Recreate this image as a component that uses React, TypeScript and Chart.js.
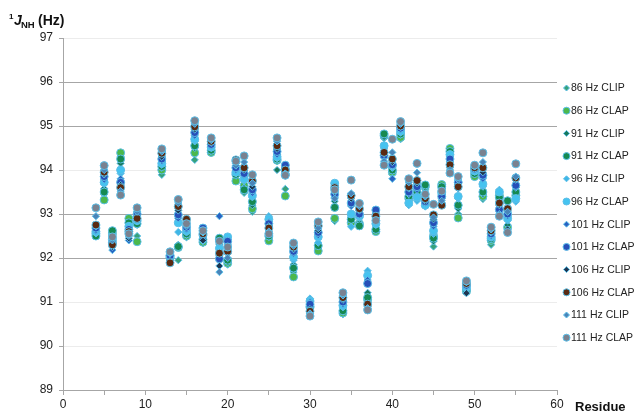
import React, { useEffect, useRef } from 'react';
import { Chart, registerables } from 'chart.js';

Chart.register(...registerables);

const residues = [4, 5, 6, 7, 8, 9, 12, 13, 14, 15, 16, 17, 18, 19, 20, 21, 22, 23, 25, 26, 27, 28, 30, 31, 33, 34, 35, 36, 37, 38, 39, 40, 41, 42, 43, 44, 45, 46, 47, 48, 49, 50, 51, 52, 53, 54, 55];

const hz86Clip = [92.58, 93.45, 92.5, 94.3, 92.85, 92.5, 93.89, 91.97, 91.95, 92.47, 94.23, 92.34, 94.39, 92.32, 91.85, 93.8, 93.48, 93.05, 92.43, 94.2, 93.57, 91.68, 90.86, 92.22, 92.84, 90.72, 92.92, 92.82, 91.0, 92.6, 94.72, 93.9, 94.7, 93.3, 93.42, 93.55, 92.26, 93.6, 94.45, 93.0, 91.22, 93.88, 93.34, 92.3, 93.32, 92.68, 93.4];
const hz86Clap = [92.55, 93.32, 92.55, 94.39, 92.9, 92.37, 94.0, 92.02, 92.24, 92.5, 94.39, 92.36, 94.4, 92.42, 91.88, 93.75, 93.65, 93.12, 92.39, 94.22, 93.41, 91.57, 90.88, 92.16, 92.9, 90.75, 92.8, 92.78, 91.05, 92.6, 94.78, 93.95, 94.74, 93.35, 93.45, 93.62, 92.5, 93.67, 94.49, 92.91, 91.24, 93.85, 93.4, 92.4, 93.42, 92.7, 93.42];
const hz91Clip = [92.52, 93.58, 92.57, 94.15, 92.78, 92.75, 94.05, 91.98, 92.3, 92.52, 94.5, 92.38, 94.42, 92.3, 91.9, 93.87, 93.6, 93.2, 92.47, 94.0, 93.87, 91.85, 90.92, 92.3, 93.29, 90.78, 92.85, 92.8, 91.21, 92.62, 94.75, 93.98, 94.8, 93.38, 93.48, 93.6, 92.38, 93.58, 94.4, 93.12, 91.26, 93.9, 93.45, 92.42, 93.35, 92.75, 93.45];
const hz91Clap = [92.5, 93.5, 92.62, 94.25, 92.8, 92.78, 94.08, 92.0, 92.26, 92.55, 94.55, 92.42, 94.45, 92.45, 91.95, 93.9, 93.55, 93.28, 92.5, 94.25, 93.9, 91.77, 90.9, 92.28, 93.15, 90.8, 92.88, 92.73, 91.1, 92.65, 94.82, 94.0, 94.82, 93.4, 93.5, 93.66, 92.45, 93.62, 94.42, 93.2, 91.28, 93.92, 93.5, 92.44, 93.38, 93.3, 93.5];
const hz96Clip = [92.56, 93.68, 92.45, 93.92, 92.7, 92.83, 94.12, 92.0, 92.59, 92.58, 94.65, 92.5, 94.5, 92.05, 92.42, 93.92, 93.75, 93.38, 92.95, 94.27, 93.98, 91.95, 91.08, 92.35, 93.65, 90.88, 92.71, 92.92, 91.71, 92.75, 94.5, 94.05, 94.85, 93.2, 93.3, 93.17, 92.55, 93.45, 94.3, 93.35, 91.3, 93.96, 93.62, 92.46, 93.55, 92.85, 93.28];
const hz96Clap = [92.6, 93.72, 92.42, 94.0, 92.72, 92.85, 94.15, 92.06, 92.8, 92.62, 94.7, 92.52, 94.52, 92.22, 92.48, 93.95, 93.8, 93.42, 92.88, 94.3, 94.02, 92.02, 91.02, 92.48, 93.7, 90.92, 93.0, 92.95, 91.6, 92.78, 94.55, 94.1, 94.88, 93.25, 93.38, 93.2, 92.62, 93.48, 94.35, 93.4, 91.33, 93.98, 93.68, 92.48, 93.5, 92.9, 93.35];
const hz101Clip = [92.62, 93.78, 92.18, 93.8, 92.4, 92.95, 94.2, 92.02, 92.9, 92.65, 94.78, 92.45, 94.55, 92.95, 92.3, 94.0, 93.88, 93.48, 92.82, 94.35, 94.05, 92.1, 91.0, 92.52, 93.38, 90.95, 93.18, 92.98, 91.5, 93.02, 94.28, 93.8, 94.92, 93.45, 93.55, 93.25, 92.72, 93.35, 94.2, 93.68, 91.35, 94.0, 93.8, 92.5, 93.05, 92.95, 93.6];
const hz101Clap = [92.68, 93.85, 92.35, 93.72, 92.65, 93.0, 94.25, 92.05, 92.98, 92.7, 94.85, 92.68, 94.58, 91.98, 92.38, 94.05, 93.92, 93.55, 92.78, 94.42, 94.11, 92.15, 90.95, 92.58, 93.45, 91.0, 93.25, 93.0, 91.42, 93.09, 94.33, 94.12, 94.95, 93.5, 93.62, 93.28, 92.8, 93.4, 94.25, 93.72, 91.38, 94.02, 93.88, 92.55, 93.1, 93.0, 93.65];
const hz106Clip = [92.72, 93.9, 92.25, 93.66, 92.45, 92.88, 94.3, 91.93, 93.08, 92.82, 94.92, 92.4, 94.62, 91.82, 92.1, 94.15, 94.0, 93.62, 92.72, 94.48, 93.97, 92.2, 90.84, 92.63, 93.5, 91.05, 93.35, 93.08, 90.9, 92.9, 94.38, 94.18, 94.98, 93.58, 93.7, 93.3, 92.88, 93.25, 94.05, 93.58, 91.2, 94.03, 93.95, 92.58, 93.2, 92.65, 93.78];
const hz106Clap = [92.75, 93.95, 92.3, 93.6, 92.6, 92.9, 94.38, 91.89, 93.17, 92.88, 94.98, 92.55, 94.65, 92.11, 92.15, 94.23, 94.05, 93.75, 92.68, 94.55, 94.0, 92.25, 90.79, 92.73, 93.6, 91.1, 93.42, 93.12, 90.95, 92.95, 94.4, 94.25, 95.0, 93.62, 93.76, 93.35, 92.98, 93.2, 94.12, 93.62, 91.42, 94.05, 94.05, 92.62, 93.25, 93.12, 93.82];
const hz111Clip = [92.95, 94.0, 92.4, 93.52, 92.5, 93.05, 94.42, 92.1, 93.25, 92.72, 95.05, 92.58, 94.68, 91.68, 92.0, 94.1, 94.18, 93.7, 92.6, 94.65, 93.92, 92.28, 90.74, 92.68, 93.35, 91.15, 93.47, 93.18, 90.86, 92.82, 94.2, 94.4, 95.05, 93.72, 93.94, 93.4, 92.92, 93.3, 94.0, 93.78, 91.45, 94.08, 94.18, 92.65, 93.0, 93.05, 93.85];
const hz111Clap = [93.14, 94.1, 92.48, 93.43, 92.55, 93.14, 94.48, 92.14, 93.33, 92.78, 95.12, 92.62, 94.73, 92.38, 92.25, 94.2, 94.32, 93.89, 92.55, 94.73, 93.88, 92.34, 90.68, 92.82, 93.55, 91.21, 93.77, 93.24, 90.82, 92.85, 94.11, 94.7, 95.1, 93.8, 94.15, 93.45, 93.22, 93.52, 93.93, 93.85, 91.48, 94.11, 94.39, 92.7, 92.95, 92.58, 94.14];

const seriesLabels = ['86 Hz CLIP', '86 Hz CLAP', '91 Hz CLIP', '91 Hz CLAP', '96 Hz CLIP', '96 Hz CLAP', '101 Hz CLIP', '101 Hz CLAP', '106 Hz CLIP', '106 Hz CLAP', '111 Hz CLIP', '111 Hz CLAP'];
const seriesValues = [hz86Clip, hz86Clap, hz91Clip, hz91Clap, hz96Clip, hz96Clap, hz101Clip, hz101Clap, hz106Clip, hz106Clap, hz111Clip, hz111Clap];
const seriesColors = ['#37a27a', '#4cb84c', '#17785a', '#168a52', '#3fb6e6', '#45c3f0', '#2a62c2', '#2750b8', '#1e3550', '#5a2a12', '#4a84b8', '#7a8290'];

const FONT = '"Liberation Sans", Arial, sans-serif';
const BORDER = '#5cbfe8';

const overlayPlugin = {
  id: 'overlay',
  afterDraw(chart: any) {
    const ctx = chart.ctx as CanvasRenderingContext2D;
    ctx.save();
    ctx.fillStyle = '#111';
    ctx.textBaseline = 'alphabetic';
    ctx.textAlign = 'left';
    // title
    ctx.font = `bold 8px ${FONT}`;
    ctx.fillText('1', 9, 19);
    ctx.font = `bold italic 14px ${FONT}`;
    ctx.fillText('J', 14, 25);
    ctx.font = `bold 9.5px ${FONT}`;
    ctx.fillText('NH', 21, 28);
    ctx.font = `bold 14px ${FONT}`;
    ctx.fillText('(Hz)', 38, 25);
    // x title
    ctx.font = `bold 13px ${FONT}`;
    ctx.fillText('Residue', 575, 411);
    // legend
    ctx.font = `10.5px ${FONT}`;
    ctx.textBaseline = 'middle';
    seriesLabels.forEach((lab, i) => {
      const y = 88 + i * 22.7;
      const x = 566.5;
      ctx.fillStyle = seriesColors[i];
      ctx.strokeStyle = BORDER;
      ctx.lineWidth = 1;
      ctx.beginPath();
      if (i % 2 === 0) {
        const r = 3;
        ctx.moveTo(x, y - r);
        ctx.lineTo(x + r, y);
        ctx.lineTo(x, y + r);
        ctx.lineTo(x - r, y);
        ctx.closePath();
      } else {
        ctx.arc(x, y, 3.5, 0, Math.PI * 2);
      }
      ctx.fill();
      ctx.stroke();
      ctx.fillStyle = '#222';
      ctx.fillText(lab, 571, y + 0.5);
    });
    ctx.restore();
  },
};

const gridColorFor = (v: number) => {
  if (v === 92 || v === 93 || v === 95 || v === 96 || v === 89) return '#a6a6a6';
  return '#ececec';
};

export default function App() {
  const ref = useRef<HTMLCanvasElement>(null);
  useEffect(() => {
    if (!ref.current) return;
    const datasets = seriesLabels.map((label, i) => ({
      label,
      data: residues.map((r, j) => ({ x: r, y: seriesValues[i][j] })),
      pointStyle: i % 2 === 0 ? 'rectRot' : 'circle',
      pointRadius: i % 2 === 0 ? 3.6 : 4,
      backgroundColor: seriesColors[i],
      borderColor: BORDER,
      borderWidth: 1,
      showLine: false,
      order: 11 - i,
    }));
    const chart = new Chart(ref.current, {
      type: 'scatter',
      data: { datasets } as any,
      options: {
        animation: false,
        responsive: false,
        devicePixelRatio: 1,
        layout: { padding: { top: 38, right: 79, left: 0, bottom: 0 } },
        plugins: { legend: { display: false }, tooltip: { enabled: false } },
        scales: {
          x: {
            type: 'linear',
            min: 0,
            max: 60,
            afterFit: (s: any) => { s.height = 23; },
            ticks: {
              stepSize: 5,
              autoSkip: false,
              maxRotation: 0,
              padding: 2,
              color: '#222',
              font: { family: FONT, size: 12 },
              callback: (v: any) => (Number(v) % 10 === 0 ? String(v) : ''),
            },
            grid: { drawOnChartArea: false, drawTicks: true, tickLength: 5, color: '#a6a6a6' },
            border: { color: '#a6a6a6', width: 1 },
          },
          y: {
            type: 'linear',
            min: 89,
            max: 97,
            afterFit: (s: any) => { s.width = 63; },
            ticks: {
              stepSize: 1,
              padding: 6,
              color: '#222',
              font: { family: FONT, size: 12 },
            },
            grid: {
              color: (c: any) => gridColorFor(c.tick ? c.tick.value : 0),
              tickColor: '#a6a6a6',
              tickLength: 4,
              lineWidth: 1,
            },
            border: { color: '#a6a6a6', width: 1 },
          },
        },
      } as any,
      plugins: [overlayPlugin],
    });
    return () => chart.destroy();
  }, []);
  return (
    <div style={{ position: 'absolute', left: 0, top: 0, width: 636, height: 413, background: '#fff' }}>
      <canvas ref={ref} width={636} height={413} style={{ display: 'block', width: 636, height: 413 }} />
    </div>
  );
}
